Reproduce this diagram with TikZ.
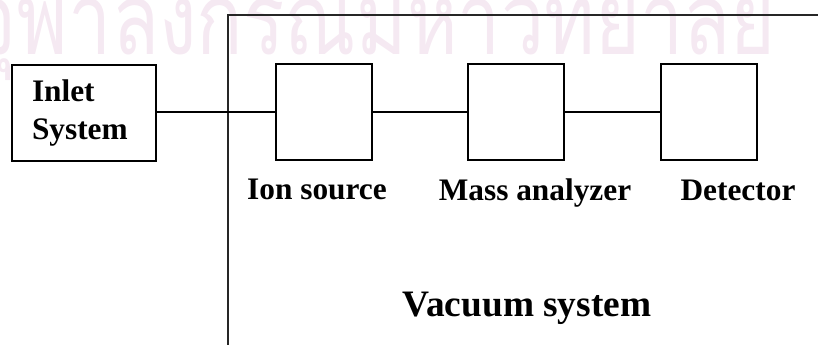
\documentclass[tikz,border=0pt]{standalone}
\usepackage{fontspec}
\setmainfont{Liberation Serif}
\newfontfamily\thaifont[Script=Thai, FakeStretch=0.77]{Loma}
\usepackage{xcolor}
\usetikzlibrary{positioning}

\definecolor{wmpink}{HTML}{F5E9F2}

\begin{document}
\begin{tikzpicture}[
    x=0.75pt, y=-0.75pt,
    font=\fontsize{23.5}{28}\selectfont\bfseries,
    unit/.style={draw, line width=1.5pt, minimum width=72pt, minimum height=72pt, inner sep=0pt},
    inletbox/.style={unit, minimum width=108pt, text width=78pt, align=left},
    partname/.style={anchor=base, inner sep=0pt},
    link/.style={line width=1.5pt},
    frame/.style={line width=1.5pt, black!85},
    watermark/.style={anchor=base east, inner sep=0pt, text=wmpink, font=\fontsize{75}{75}\selectfont\mdseries\thaifont}
]
\useasboundingbox (0,0) rectangle (818,345);

% watermark
\node[watermark] (wm) at (776,55) {จุฬาลงกรณ์มหาวิทยาลัย};

% vacuum chamber
\draw[frame] (228,350) -- (228,15) -- (825,15);

% boxes
\node[inletbox] (inlet) at (84,113)    {Inlet\\System};
\node[unit]     (ion)   at (324,112)   {};
\node[unit]     (mass)  at (516,112)   {};
\node[unit]     (det)   at (708.5,112) {};

\draw[link] (inlet.east |- ion.west) -- (ion.west);
\draw[link] (ion.east)   -- (mass.west);
\draw[link] (mass.east)  -- (det.west);

% names
\node[partname] (ionname)  at (317,200) {Ion source};
\node[partname] (massname) at (535,201) {Mass analyzer};
\node[partname] (detname)  at (738,201) {Detector};

\node[partname, font=\fontsize{28}{32}\selectfont\bfseries] (vac) at (527,317) {Vacuum system};
\end{tikzpicture}
\end{document}
